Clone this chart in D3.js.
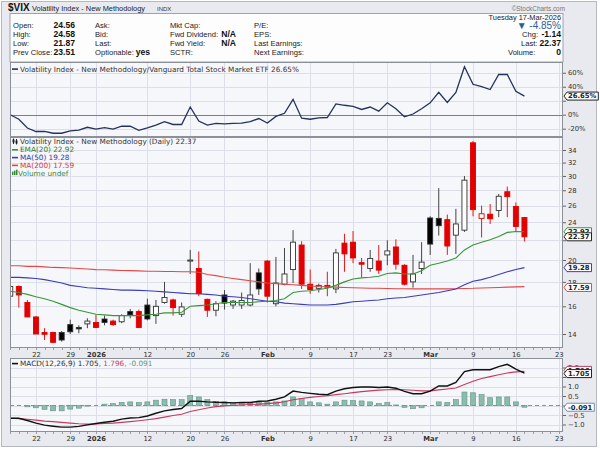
<!DOCTYPE html>
<html>
<head>
<meta charset="utf-8">
<script src="https://cdn.jsdelivr.net/npm/d3@7/dist/d3.min.js"></script>
<style>
  body { margin: 0; background: #fff; }
  text { font-family: "DejaVu Sans", Verdana, sans-serif; }
  .info text, .head text { font-family: "Liberation Sans", Arial, sans-serif; }
</style>
</head>
<body>
<svg id="chart" width="600" height="451"></svg>
<script>
// sessions on screen, Dec 17 2025 .. Mar 17 2026
var days = ["12-17","12-18","12-19","12-22","12-23","12-24","12-26","12-29","12-30","12-31",
  "01-02","01-05","01-06","01-07","01-08","01-09","01-12","01-13","01-14","01-15","01-16",
  "01-20","01-21","01-22","01-23","01-26","01-27","01-28","01-29","01-30",
  "02-02","02-03","02-04","02-05","02-06","02-09","02-10","02-11","02-12","02-13",
  "02-17","02-18","02-19","02-20","02-23","02-24","02-25","02-26","02-27",
  "03-02","03-03","03-04","03-05","03-06","03-09","03-10","03-11","03-12","03-13","03-16","03-17"];

var open  = [16.8,17.6,16.3,15.2,14.1,14.1,14.1,14.65,14.45,14.7,14.8,15.05,14.9,14.85,15.6,15.6,16.1,15.3,16.3,16.5,15.4,19.9,19.2,16.55,15.7,16.9,16.1,16.1,16.1,18.8,19.9,16.2,17.8,19.1,21.5,17.8,17.45,17.7,17.4,21.7,21.8,19.75,19.2,19.9,20.5,21.3,19.5,18.0,19.2,24.5,24.45,24.3,22.55,23.1,35.2,24.45,24.95,25.4,27.8,25.9,24.56];
var high  = [17.7,17.7,16.5,15.25,14.4,14.15,14.2,15.0,14.6,15.1,15.35,15.3,15.0,15.4,15.8,15.75,16.6,16.5,18.0,16.6,16.3,21.0,20.85,16.6,16.4,17.3,16.5,17.1,19.7,19.2,20.0,20.3,21.2,23.1,21.9,19.1,17.85,18.9,21.1,22.7,23.0,20.2,21.0,21.5,22.0,22.1,19.6,20.5,21.8,24.7,28.3,24.9,25.6,30.0,35.5,26.0,26.2,27.5,28.5,26.4,24.58];
var low   = [16.6,15.9,15.2,14.0,13.6,13.4,13.5,14.0,14.05,14.4,14.4,14.6,14.55,14.75,15.1,14.4,14.95,14.7,16.2,15.3,15.2,18.7,16.8,15.2,15.25,15.75,15.8,15.8,16.0,16.9,16.3,16.0,17.7,17.9,17.4,17.0,17.1,16.8,17.05,18.9,19.7,18.4,18.9,18.7,19.5,19.1,17.7,17.5,18.7,20.5,22.5,20.5,20.6,22.9,24.7,22.3,23.8,24.6,24.6,23.0,21.87];
var close = [17.6,16.9,15.2,14.0,13.98,13.45,13.6,14.15,14.35,14.9,14.45,14.8,14.65,15.3,15.35,14.45,15.05,16.0,16.7,15.9,15.95,20.0,17.0,15.7,16.2,16.25,16.4,16.45,16.9,17.4,16.8,17.9,18.7,21.8,17.8,17.35,17.7,17.55,20.7,20.6,20.2,19.6,20.15,19.05,20.9,19.6,17.8,18.7,19.8,21.6,23.6,21.4,23.8,29.4,25.5,25.0,24.4,27.2,27.15,23.51,22.37];
var prevClose0 = 16.6;

var ema20 = [17.2,17.1,16.95,16.75,16.6,16.4,16.15,15.9,15.7,15.55,15.4,15.35,15.3,15.3,15.3,15.3,15.35,15.4,15.5,15.5,15.55,16.0,16.05,16.1,16.2,16.3,16.3,16.3,16.3,16.35,16.4,16.45,16.6,17.1,17.2,17.25,17.35,17.45,17.7,18.0,18.25,18.35,18.4,18.5,18.75,18.8,18.7,18.7,19.0,19.5,19.7,19.9,20.2,21.0,21.5,21.8,22.05,22.4,22.85,22.95,22.92];
var ma50  = [18.4,18.4,18.35,18.3,18.2,18.05,17.9,17.7,17.6,17.5,17.45,17.4,17.35,17.3,17.3,17.28,17.25,17.2,17.15,17.1,17.05,17.0,17.0,16.95,16.9,16.8,16.75,16.7,16.6,16.5,16.4,16.35,16.25,16.2,16.15,16.1,16.1,16.1,16.15,16.25,16.35,16.4,16.45,16.5,16.6,16.65,16.7,16.8,16.9,17.0,17.1,17.25,17.4,17.75,18.05,18.2,18.4,18.65,18.9,19.1,19.28];
var ma200 = [19.45,19.45,19.4,19.4,19.35,19.3,19.28,19.25,19.2,19.15,19.1,19.08,19.05,19.02,19.0,18.98,18.95,18.95,18.93,18.92,18.9,18.9,18.85,18.65,18.55,18.4,18.3,18.2,18.1,18.0,17.9,17.85,17.8,17.75,17.7,17.65,17.6,17.58,17.55,17.52,17.5,17.48,17.46,17.45,17.44,17.42,17.41,17.4,17.4,17.4,17.4,17.4,17.42,17.44,17.45,17.48,17.5,17.52,17.55,17.57,17.59];

// $VIX : VTI relative performance, %
var relPerf = [0,-6.5,-19,-24,-24,-26.5,-26.5,-23,-22,-18,-20.5,-18.5,-20.5,-16.5,-16.5,-22.5,-19,-15,-10,-14,-14,11,-9,-15,-12.5,-13,-12.5,-12,-10,-5.5,-12,-2.5,2,22,-5,-6.5,-4.5,-4,15.5,13.5,12,7.5,11,5,17,8.5,-3,1,8.5,17,32,17.5,32,68.5,43.5,40,36,57.5,57.5,33.5,26.65];

var macd   = [-0.67,-0.67,-0.79,-0.93,-1.03,-1.09,-1.14,-1.14,-1.10,-1.02,-0.95,-0.88,-0.83,-0.72,-0.66,-0.64,-0.55,-0.41,-0.28,-0.21,-0.16,0.22,0.22,0.19,0.17,0.16,0.14,0.16,0.16,0.22,0.24,0.33,0.45,0.76,0.69,0.64,0.59,0.57,0.76,0.88,0.95,0.97,0.97,0.95,0.97,0.91,0.74,0.62,0.62,0.76,1.03,1.03,1.22,1.78,1.88,1.88,1.88,2.05,2.17,1.91,1.705];
var signal = [-0.67,-0.69,-0.72,-0.77,-0.82,-0.85,-0.89,-0.93,-0.96,-0.98,-0.97,-0.95,-0.93,-0.89,-0.85,-0.80,-0.75,-0.69,-0.61,-0.53,-0.46,-0.32,-0.22,-0.13,-0.06,-0.02,0.01,0.03,0.05,0.07,0.10,0.14,0.20,0.30,0.37,0.43,0.47,0.51,0.57,0.62,0.68,0.73,0.77,0.81,0.83,0.84,0.83,0.80,0.77,0.77,0.82,0.87,0.92,1.10,1.28,1.42,1.52,1.62,1.71,1.77,1.796];
var hist   = [0,0,-0.07,-0.12,-0.2,-0.28,-0.28,-0.19,-0.14,-0.03,0,0.07,0.1,0.16,0.19,0.16,0.19,0.28,0.33,0.31,0.31,0.53,0.45,0.31,0.22,0.19,0.16,0.14,0.14,0.17,0.16,0.19,0.24,0.45,0.36,0.19,0.14,0.07,0.19,0.28,0.26,0.24,0.19,0.1,0.16,0.03,-0.1,-0.17,-0.12,0.0,0.19,0.16,0.31,0.71,0.67,0.57,0.41,0.45,0.45,0.19,-0.091];

// date axis: session index of each label (Mar 23 is past the data)
var tickPos  = [3,7,10,16,21,25,30,35,40,44,49,54,59,64];
var tickText = ["22","29","2026","12","20","26","Feb","9","17","23","Mar","9","16","23"];
var boldTicks = ["2026","Feb","Mar"];

var priceTicks = [14,16,18,20,22,24,26,28,30,32,34];
var relTicks = [-20,0,20,40,60];
var macdTicks = [-1,-0.5,0,0.5,1,1.5,2];

var svg = d3.select('#chart');
var L = 10, R = 563;
var relP = {t: 62, b: 137}, priceP = {t: 137, b: 348}, macdP = {t: 358, b: 432};

var x = d3.scaleLinear().domain([-0.03, 64.5]).range([L, R]);
var yRel = d3.scaleLinear().domain([-31.9, 75.4]).range([relP.b, relP.t]);
var yPrice = d3.scaleLog().domain([14, 34]).range([334, 150]);
var yMacd = d3.scaleLinear().domain([0, 2]).range([405.5, 367.5]);

// page background and outer frame
svg.append('rect').attr('width', 600).attr('height', 451).attr('fill', '#fff');
svg.append('rect').attr('x', 1.5).attr('y', 1.5).attr('width', 595).attr('height', 445)
    .attr('fill', '#e9eaef').attr('stroke', '#b4b8c0');

// ---------- header ----------
var head = svg.append('g').attr('class', 'head');
head.append('text').attr('x', 8).attr('y', 11).attr('font-size', 10).attr('font-weight', 'bold').attr('fill', '#111').text('$VIX');
head.append('text').attr('x', 32).attr('y', 11).attr('font-size', 7.4).attr('fill', '#222').text('Volatility Index - New Methodology');
head.append('text').attr('x', 157).attr('y', 11).attr('font-size', 6).attr('fill', '#333').text('INDX');
head.append('text').attr('x', 565).attr('y', 10.5).attr('text-anchor', 'end').attr('font-size', 6.4).attr('fill', '#777').text('\u00a9StockCharts.com');

// ---------- info box ----------
var info = svg.append('g').attr('class', 'info');
info.append('rect').attr('x', L).attr('y', 13.5).attr('width', R - L).attr('height', 48.5)
    .attr('fill', '#fdfdfe').attr('stroke', '#9ea2aa');

var rowsY = [27.5, 36.5, 45.5, 54.5];
var infoCols = [
  {x: 13, labels: ['Open:', 'High:', 'Low:', 'Prev Close:'], vx: 75, values: ['24.56', '24.58', '21.87', '23.51']},
  {x: 95, labels: ['Ask:', 'Bid:', 'Last:', 'Optionable:'], vx: 150, values: ['', '', '', 'yes']},
  {x: 170, labels: ['Mkt Cap:', 'Fwd Dividend:', 'Fwd Yield:', 'SCTR:'], vx: 236, values: ['', 'N/A', 'N/A', '']},
  {x: 254, labels: ['P/E:', 'EPS:', 'Last Earnings:', 'Next Earnings:'], vx: 0, values: ['', '', '', '']}
];
infoCols.forEach(function(col) {
  col.labels.forEach(function(lab, r) {
    info.append('text').attr('x', col.x).attr('y', rowsY[r]).attr('font-size', 7.6).attr('fill', '#222').text(lab);
    if (col.values[r]) {
      info.append('text').attr('x', col.vx).attr('y', rowsY[r]).attr('text-anchor', 'end')
          .attr('font-size', 8.6).attr('font-weight', 'bold').attr('fill', '#111').text(col.values[r]);
    }
  });
});
info.append('text').attr('x', 561).attr('y', 20).attr('text-anchor', 'end').attr('font-size', 7.4).attr('fill', '#222')
    .text('Tuesday  17-Mar-2026');
info.append('text').attr('x', 561).attr('y', 29).attr('text-anchor', 'end').attr('font-size', 10).attr('fill', '#2b5d9b')
    .text('\u25bc -4.85%');
var rightRows = [['Chg:', '-1.14', 522], ['Last:', '22.37', 521], ['Volume:', '0', 508]];
rightRows.forEach(function(r, k) {
  info.append('text').attr('x', r[2]).attr('y', rowsY[k + 1]).attr('font-size', 7.6).attr('fill', '#222').text(r[0]);
  info.append('text').attr('x', 561).attr('y', rowsY[k + 1]).attr('text-anchor', 'end')
      .attr('font-size', 8.6).attr('font-weight', 'bold').attr('fill', '#111').text(r[1]);
});

// ---------- panel helpers ----------
// hidden: tick labels that sit under a value tag
function drawPanel(p, yScale, ticks, fmt, clipId, hidden) {
  var g = svg.append('g');
  g.append('rect').attr('x', L).attr('y', p.t).attr('width', R - L).attr('height', p.b - p.t)
      .attr('fill', '#f6f7fb');
  g.selectAll('line.hgrid').data(ticks).enter().append('line')
      .attr('x1', L).attr('x2', R)
      .attr('y1', function(d) { return Math.round(yScale(d)) + 0.5; })
      .attr('y2', function(d) { return Math.round(yScale(d)) + 0.5; })
      .attr('stroke', '#dcdfe7');
  g.selectAll('line.vgrid').data(tickPos).enter().append('line')
      .attr('x1', function(d) { return Math.round(x(d)) + 0.5; })
      .attr('x2', function(d) { return Math.round(x(d)) + 0.5; })
      .attr('y1', p.t).attr('y2', p.b)
      .attr('stroke', '#dcdfe7');
  var ax = g.append('g').attr('transform', 'translate(' + R + ',0)')
      .call(d3.axisRight(yScale).tickValues(ticks).tickSize(3).tickPadding(2)
        .tickFormat(function(d) { return hidden.indexOf(d) >= 0 ? '' : fmt(d); }));
  ax.select('.domain').remove();
  ax.selectAll('line').attr('stroke', '#666');
  ax.selectAll('text').attr('font-size', 6.8).attr('fill', '#333')
      .attr('font-family', '"DejaVu Sans", Verdana, sans-serif');
  svg.append('clipPath').attr('id', clipId).append('rect')
      .attr('x', L).attr('y', p.t).attr('width', R - L).attr('height', p.b - p.t);
  return g;
}
function frame(p) {
  svg.append('rect').attr('x', L + 0.5).attr('y', p.t + 0.5).attr('width', R - L - 1).attr('height', p.b - p.t - 1)
      .attr('fill', 'none').attr('stroke', '#8c9099');
}
function dateAxis(yPos) {
  var ax = svg.append('g').attr('transform', 'translate(0,' + yPos + ')')
      .call(d3.axisBottom(x).tickValues(tickPos).tickSize(0).tickPadding(4)
        .tickFormat(function(d, i) { return tickText[i]; }));
  ax.select('.domain').remove();
  ax.selectAll('text').attr('font-size', 6.8).attr('fill', '#333')
      .attr('font-family', '"DejaVu Sans", Verdana, sans-serif')
      .attr('font-weight', function(d, i) { return boldTicks.indexOf(tickText[i]) >= 0 ? 'bold' : 'normal'; });
  svg.append('g').selectAll('line').data(d3.range(0, 65)).enter().append('line')
      .attr('x1', function(d) { return Math.round(x(d)) + 0.5; })
      .attr('x2', function(d) { return Math.round(x(d)) + 0.5; })
      .attr('y1', yPos).attr('y2', yPos + 2)
      .attr('stroke', '#9a9ea6');
}
function tag(y, txt, color) {
  var g = svg.append('g');
  var t = g.append('text').attr('x', 568).attr('y', y + 2.4).attr('font-size', 6.8)
      .attr('font-weight', 'bold').attr('fill', '#222').text(txt);
  var w = t.node().getComputedTextLength() + 3;
  g.insert('path', 'text')
      .attr('d', 'M564,' + y + 'L567,' + (y - 4) + 'H' + (567 + w) + 'V' + (y + 4) + 'H567Z')
      .attr('fill', '#fff').attr('stroke', color).attr('stroke-width', 1);
}
var legendSize = 7.3;
function legendLine(yy, color, parts) {
  svg.append('line').attr('x1', 12).attr('x2', 18).attr('y1', yy - 2.4).attr('y2', yy - 2.4)
      .attr('stroke', color).attr('stroke-width', 1.6);
  var t = svg.append('text').attr('x', 20).attr('y', yy).attr('font-size', legendSize);
  parts.forEach(function(p) { t.append('tspan').attr('fill', p[1]).text(p[0]); });
}

// ---------- relative performance panel ----------
var relG = drawPanel(relP, yRel, relTicks, function(d) { return d + '%'; }, 'clipRel', [20]);
relG.append('line').attr('x1', L).attr('x2', R).attr('y1', Math.round(yRel(0)) + 0.5).attr('y2', Math.round(yRel(0)) + 0.5)
    .attr('stroke', '#7a7e88');
relG.append('path').datum(relPerf).attr('clip-path', 'url(#clipRel)')
    .attr('fill', 'none').attr('stroke', '#24325c').attr('stroke-width', 1.3)
    .attr('d', d3.line().x(function(d, i) { return x(i); }).y(function(d) { return yRel(d); }));
frame(relP);
legendLine(71.5, '#24325c', [['Volatility Index - New Methodology/Vanguard Total Stock Market ETF 26.65%', '#333']]);
tag(yRel(26.65), '26.65%', '#222');

// ---------- price panel ----------
var priceG = drawPanel(priceP, yPrice, priceTicks, d3.format('d'), 'clipPrice', [22]);
var candles = close.map(function(c, i) {
  var prev = i ? close[i - 1] : prevClose0;
  return {i: i, o: open[i], h: high[i], l: low[i], c: c, up: c >= prev, hollow: c > open[i]};
});
var cg = priceG.append('g').attr('clip-path', 'url(#clipPrice)');
cg.selectAll('line.wick').data(candles).enter().append('line')
    .attr('x1', function(d) { return x(d.i); }).attr('x2', function(d) { return x(d.i); })
    .attr('y1', function(d) { return yPrice(d.h); }).attr('y2', function(d) { return yPrice(d.l); })
    .attr('stroke', function(d) { return d.up ? '#444' : '#e41a1a'; });
cg.selectAll('rect.body').data(candles).enter().append('rect')
    .attr('x', function(d) { return x(d.i) - 2.5; }).attr('width', 5)
    .attr('y', function(d) { return yPrice(Math.max(d.o, d.c)); })
    .attr('height', function(d) { return Math.max(1, Math.abs(yPrice(d.o) - yPrice(d.c))); })
    .attr('fill', function(d) { return d.hollow ? '#fff' : (d.up ? '#000' : '#e20000'); })
    .attr('stroke', function(d) { return d.up ? '#333' : '#e20000'; })
    .attr('stroke-width', 0.9);

var priceLine = d3.line().x(function(d, i) { return x(i); }).y(function(d) { return yPrice(d); });
[[ma200, '#e24848'], [ma50, '#3c3cb4'], [ema20, '#3a963a']].forEach(function(s) {
  cg.append('path').datum(s[0]).attr('fill', 'none').attr('stroke', s[1]).attr('stroke-width', 1.1).attr('d', priceLine);
});
frame(priceP);

// legend
var icon = svg.append('g');
icon.append('line').attr('x1', 13.5).attr('x2', 13.5).attr('y1', 138.5).attr('y2', 144).attr('stroke', '#222');
icon.append('rect').attr('x', 12.5).attr('y', 139.5).attr('width', 2).attr('height', 3).attr('fill', '#222');
icon.append('line').attr('x1', 16.5).attr('x2', 16.5).attr('y1', 139).attr('y2', 144.5).attr('stroke', '#222');
icon.append('rect').attr('x', 15.5).attr('y', 140.5).attr('width', 2).attr('height', 3).attr('fill', '#222');
svg.append('text').attr('x', 20).attr('y', 144.2).attr('font-size', legendSize).attr('fill', '#333')
    .text('Volatility Index - New Methodology (Daily) 22.37');
legendLine(152.2, '#3a963a', [['EMA(20) 22.92', '#2f7d2f']]);
legendLine(160, '#3c3cb4', [['MA(50) 19.28', '#3535a5']]);
legendLine(167.8, '#e24848', [['MA(200) 17.59', '#d23c3c']]);
[0, 2, 4].forEach(function(k, j) {
  svg.append('rect').attr('x', 12 + k).attr('y', 171.6 - j).attr('width', 1.5).attr('height', 3.5 + j).attr('fill', '#3a8a3a');
});
svg.append('text').attr('x', 18).attr('y', 175.6).attr('font-size', legendSize).attr('fill', '#3a8a3a').text('Volume undef');

dateAxis(priceP.b);

tag(yPrice(22.92), '22.92', '#3a963a');
tag(yPrice(19.28), '19.28', '#3c3cb4');
tag(yPrice(17.59) + 0.8, '17.59', '#e24848');
tag(yPrice(22.37), '22.37', '#222');

// ---------- MACD panel ----------
var macdG = drawPanel(macdP, yMacd, macdTicks, d3.format('.1f'), 'clipMacd', [1.5, 0]);
var mg = macdG.append('g').attr('clip-path', 'url(#clipMacd)');
mg.append('line').attr('x1', L).attr('x2', R).attr('y1', yMacd(0)).attr('y2', yMacd(0))
    .attr('stroke', '#6f9e90').attr('stroke-dasharray', '4,3');
mg.selectAll('rect.hist').data(hist).enter().append('rect')
    .attr('x', function(d, i) { return x(i) - 2.5; }).attr('width', 5)
    .attr('y', function(d) { return Math.min(yMacd(d), yMacd(0)); })
    .attr('height', function(d) { return Math.abs(yMacd(d) - yMacd(0)); })
    .attr('fill', '#8bbcac').attr('stroke', '#5e9585').attr('stroke-width', 0.6);
var macdLine = d3.line().x(function(d, i) { return x(i); }).y(function(d) { return yMacd(d); });
mg.append('path').datum(signal).attr('fill', 'none').attr('stroke', '#c83a5c').attr('stroke-width', 1.1).attr('d', macdLine);
mg.append('path').datum(macd).attr('fill', 'none').attr('stroke', '#111').attr('stroke-width', 1.4).attr('d', macdLine);
frame(macdP);
legendLine(366, '#111', [['MACD(12,26,9) 1.705', '#333'], [', 1.796', '#c83a5c'], [', -0.091', '#5e9585']]);
dateAxis(macdP.b);

tag(yMacd(1.796) - 1, '1.796', '#c83a5c');
tag(yMacd(1.705) + 0.5, '1.705', '#222');
tag(yMacd(-0.091), '-0.091', '#6f8fb0');
</script>
</body>
</html>
